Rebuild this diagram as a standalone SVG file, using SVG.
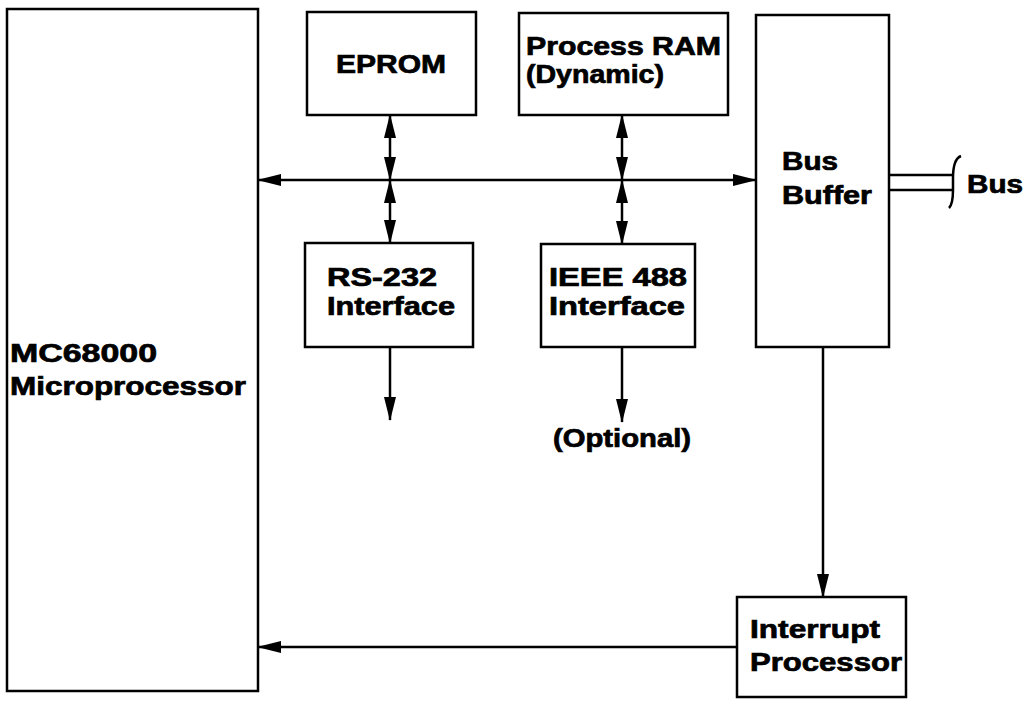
<svg xmlns="http://www.w3.org/2000/svg" width="1029" height="704" viewBox="0 0 1029 704">
<style>
.box{fill:#fff;stroke:#000;stroke-width:2.5}
.ln{fill:none;stroke:#000;stroke-width:2.5}
.t{font-family:"Liberation Sans",Arial,sans-serif;font-weight:bold;font-size:25px;fill:#000;stroke:#000;stroke-width:0.7}
</style>
<defs>
<marker id="ah" viewBox="0 0 24 12" refX="23" refY="6" markerWidth="24" markerHeight="12" markerUnits="userSpaceOnUse" orient="auto-start-reverse">
<path d="M0,0 L24,6 L0,12 Z" fill="#000"/>
</marker>
</defs>
<rect width="1029" height="704" fill="#fff"/>
<g id="mc68000">
<rect class="box" x="7" y="9" width="251" height="682"/>
<text class="t" x="10" y="362" textLength="147" lengthAdjust="spacingAndGlyphs">MC68000</text>
<text class="t" x="10" y="395" textLength="236" lengthAdjust="spacingAndGlyphs">Microprocessor</text>
</g>
<g id="eprom">
<rect class="box" x="307" y="12" width="169" height="103"/>
<text class="t" x="336" y="73" textLength="110" lengthAdjust="spacingAndGlyphs">EPROM</text>
</g>
<g id="process-ram">
<rect class="box" x="519" y="13" width="209" height="102"/>
<text class="t" x="526" y="55" textLength="195" lengthAdjust="spacingAndGlyphs">Process RAM</text>
<text class="t" x="526" y="83" textLength="138" lengthAdjust="spacingAndGlyphs">(Dynamic)</text>
</g>
<g id="bus-buffer">
<rect class="box" x="756" y="15" width="133" height="332"/>
<text class="t" x="782" y="170" textLength="56" lengthAdjust="spacingAndGlyphs">Bus</text>
<text class="t" x="782" y="204" textLength="90" lengthAdjust="spacingAndGlyphs">Buffer</text>
</g>
<g id="rs232">
<rect class="box" x="305" y="243" width="168" height="104"/>
<text class="t" x="327" y="286" textLength="110" lengthAdjust="spacingAndGlyphs">RS-232</text>
<text class="t" x="327" y="315" textLength="128" lengthAdjust="spacingAndGlyphs">Interface</text>
</g>
<g id="ieee488">
<rect class="box" x="541" y="244" width="154" height="103"/>
<text class="t" x="549" y="286" textLength="138" lengthAdjust="spacingAndGlyphs">IEEE 488</text>
<text class="t" x="549" y="315" textLength="136" lengthAdjust="spacingAndGlyphs">Interface</text>
</g>
<g id="interrupt">
<rect class="box" x="737" y="597" width="169" height="100"/>
<text class="t" x="750" y="638" textLength="130" lengthAdjust="spacingAndGlyphs">Interrupt</text>
<text class="t" x="750" y="671" textLength="152" lengthAdjust="spacingAndGlyphs">Processor</text>
</g>
<g id="optional-label">
<text class="t" x="553" y="447" textLength="138" lengthAdjust="spacingAndGlyphs">(Optional)</text>
</g>
<g id="bus-label">
<text class="t" x="967" y="193" textLength="56" lengthAdjust="spacingAndGlyphs">Bus</text>
</g>
<g id="connectors">
<line class="ln" x1="258" y1="180" x2="756" y2="180" marker-start="url(#ah)" marker-end="url(#ah)"/>
<line class="ln" x1="390" y1="115" x2="390" y2="180" marker-start="url(#ah)" marker-end="url(#ah)"/>
<line class="ln" x1="390" y1="180" x2="390" y2="243" marker-start="url(#ah)" marker-end="url(#ah)"/>
<line class="ln" x1="622" y1="115" x2="622" y2="180" marker-start="url(#ah)" marker-end="url(#ah)"/>
<line class="ln" x1="622" y1="180" x2="622" y2="244" marker-start="url(#ah)" marker-end="url(#ah)"/>
<line class="ln" x1="390" y1="347" x2="390" y2="420" marker-end="url(#ah)"/>
<line class="ln" x1="622" y1="347" x2="622" y2="422" marker-end="url(#ah)"/>
<line class="ln" x1="823" y1="347" x2="823" y2="597" marker-end="url(#ah)"/>
<line class="ln" x1="737" y1="647" x2="258" y2="647" marker-end="url(#ah)"/>
<line class="ln" x1="889" y1="175" x2="953" y2="175"/>
<line class="ln" x1="889" y1="190" x2="953" y2="190"/>
<path class="ln" d="M961,156 Q953,159 953,178 L953,190 Q953,204 949,208"/>
</g>
</svg>
